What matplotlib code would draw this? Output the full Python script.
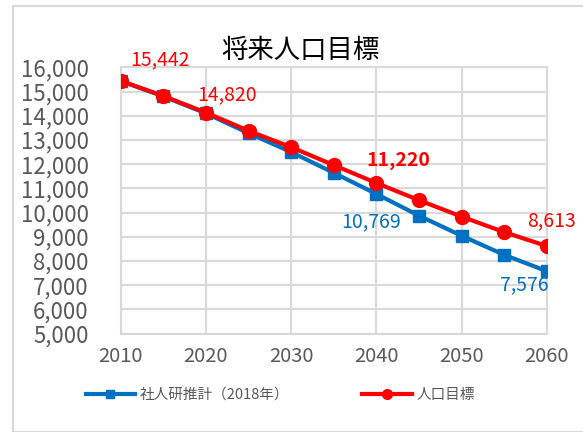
import matplotlib.pyplot as plt
from matplotlib.patches import Rectangle
from matplotlib.ticker import FuncFormatter

plt.rcParams['font.family'] = ['Noto Sans CJK JP', 'DejaVu Sans']

# datos
years = [2010, 2015, 2020, 2025, 2030, 2035, 2040, 2045, 2050, 2055, 2060]
ipss = [15442, 14800, 14100, 13280, 12500, 11640, 10769, 9870, 9040, 8250, 7576]
target = [15442, 14820, 14130, 13380, 12700, 11960, 11220, 10510, 9830, 9190, 8613]
ipss_label = '社人研推計（2018年）'
target_label = '人口目標'
title = '将来人口目標'

blue = '#0070C0'
red = '#FF0000'
grid = '#D9D9D9'

fig = plt.figure(figsize=(5.83, 4.32), dpi=100)
# marco del area del grafico (estilo excel)
fig.patches.append(Rectangle((13 / 583, 0), 1, 1 - 6 / 432, transform=fig.transFigure,
                             fill=False, edgecolor=grid, linewidth=1.5))

ax = fig.add_axes([0.207, 0.228, 0.731, 0.616])
ax.plot(years, ipss, color=blue, lw=3, marker='s', ms=9, label=ipss_label, zorder=3)
ax.plot(years, target, color=red, lw=3, marker='o', ms=10, label=target_label, zorder=4)

ax.set_xlim(2010, 2060)
ax.set_ylim(5000, 16000)
ax.set_xticks(range(2010, 2061, 10))
ax.set_yticks(range(5000, 16001, 1000))
ax.xaxis.set_minor_locator(plt.MultipleLocator(10))
ax.yaxis.set_major_formatter(FuncFormatter(lambda v, p: f'{int(v):,}'))
ax.grid(True, color=grid, lw=1.5)
ax.set_axisbelow(True)
for s in ax.spines.values():
    s.set_color(grid)
    s.set_linewidth(1.5)
ax.tick_params(length=0, colors='#595959')
ax.tick_params(axis='y', labelsize=16, pad=23)
ax.tick_params(axis='x', labelsize=14.5, pad=9)

# etiquetas de datos
def lab(x, y, txt, dx, dy, c, bold=False):
    ax.annotate(txt, (x, y), xytext=(dx, dy), textcoords='offset points',
                color=c, fontsize=14, ha='center', va='center',
                fontweight='bold' if bold else 'normal')

lab(years[0], target[0], f'{target[0]:,}', 28, 15, red)
lab(years[1], target[1], f'{target[1]:,}', 46, 1, red)
lab(years[6], target[6], f'{target[6]:,}', 16, 16, red, bold=True)
lab(years[6], ipss[6], f'{ipss[6]:,}', -4, -20, blue)
lab(years[10], target[10], f'{target[10]:,}', 3, 18, red)
lab(years[10], ipss[10], f'{ipss[10]:,}', -16, -10, blue)

fig.text(0.516, 0.884, title, fontsize=19, ha='center', va='center', color='#000000')

fig.legend(loc='center left', bbox_to_anchor=(0.147, 0.086), ncol=2, frameon=False,
           fontsize=10.5, columnspacing=5.0, handlelength=3.4, handletextpad=0.3,
           markerscale=0.7, labelcolor='#595959', borderpad=0, borderaxespad=0)

fig.savefig('out.png', dpi=100)
